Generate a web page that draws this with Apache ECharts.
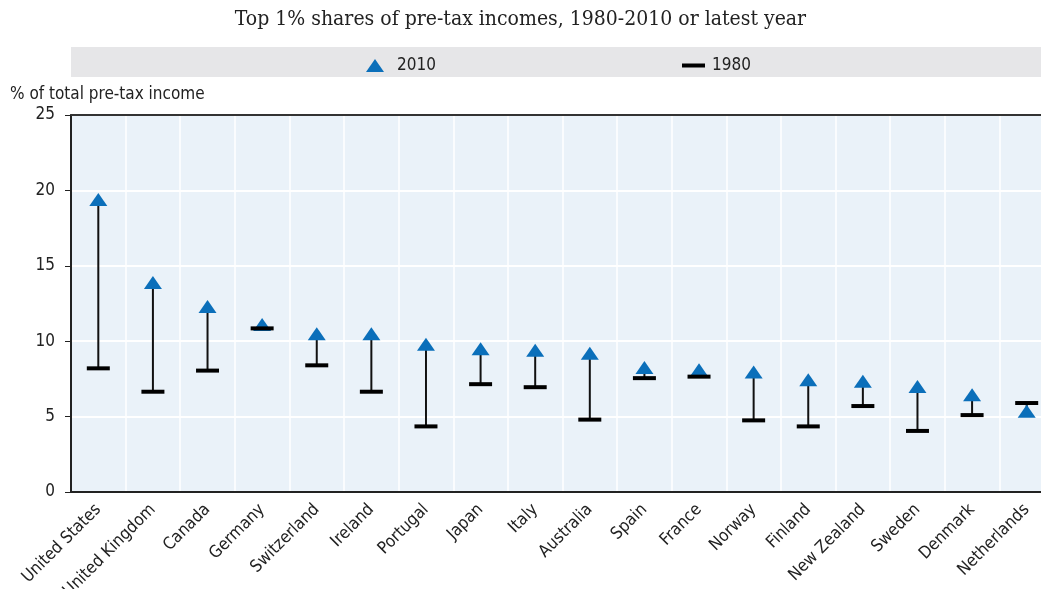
<!DOCTYPE html>
<html>
<head>
<meta charset="utf-8">
<script src="https://cdn.jsdelivr.net/npm/echarts@6/dist/echarts.min.js"></script>
<style>
html,body{margin:0;padding:0;background:#fff;}
#chart{width:1041px;height:589px;}
</style>
</head>
<body>
<div id="chart"></div>
<script>
var countries = ["United States","United Kingdom","Canada","Germany","Switzerland","Ireland","Portugal","Japan","Italy","Australia","Spain","France","Norway","Finland","New Zealand","Sweden","Denmark","Netherlands"];
var share2010 = [19.4,13.9,12.3,11.1,10.5,10.5,9.8,9.5,9.4,9.2,8.25,8.1,7.95,7.45,7.35,7.0,6.45,5.35];
var share1980 = [8.2,6.65,8.05,10.85,8.4,6.65,4.35,7.15,6.95,4.8,7.55,7.65,4.75,4.35,5.7,4.05,5.1,5.9];
var yTicks = [0,5,10,15,20,25];

var FONT = '"DejaVu Sans Condensed", Roboto, sans-serif';
var chart = echarts.init(document.getElementById('chart'));

var rangeData = countries.map(function(c, i){ return [i, share1980[i], share2010[i]]; });

chart.setOption({
  animation: false,
  backgroundColor: '#ffffff',
  title: {
    text: 'Top 1% shares of pre-tax incomes, 1980-2010 or latest year',
    left: 'center', top: 4,
    textStyle: {fontFamily: '"DejaVu Serif Condensed", "DejaVu Serif", serif', fontWeight: 'normal', fontSize: 21, color: '#222'}
  },
  graphic: [{
    type: 'rect', left: 71, top: 47, silent: true, z: -10,
    shape: {width: 970, height: 30},
    style: {fill: '#e6e6e8'}
  }],
  legend: [{
    data: ['2010'], left: 361, top: 52, itemWidth: 18, itemHeight: 13,
    textStyle: {fontFamily: FONT, fontSize: 17, color: '#222', padding: [0,0,0,8]}
  },{
    data: ['1980'], left: 677, top: 52, itemWidth: 23, itemHeight: 4,
    textStyle: {fontFamily: FONT, fontSize: 17, color: '#222', padding: [0,0,0,2]}
  }],
  grid: {left: 71, width: 983, top: 115, height: 377, containLabel: false, outerBoundsMode: 'none',
    show: true, backgroundColor: '#eaf2f9', borderWidth: 0},
  xAxis: [{
    type: 'category', data: countries, boundaryGap: true,
    axisLine: {lineStyle: {color: '#222', width: 2}},
    axisTick: {inside: true, length: 6, lineStyle: {color: '#777', width: 1.5}},
    splitLine: {show: true, lineStyle: {color: '#ffffff', width: 1.5}},
    axisLabel: {rotate: 45, fontFamily: FONT, fontSize: 17, color: '#222', margin: 15, interval: 0}
  },{
    type: 'category', data: countries, position: 'top',
    axisLine: {lineStyle: {color: '#333', width: 2}},
    axisTick: {show: false}, axisLabel: {show: false}
  }],
  yAxis: {
    type: 'value', min: 0, max: 25, interval: 5,
    name: '% of total pre-tax income', nameLocation: 'end', nameGap: 12,
    nameTextStyle: {fontFamily: FONT, fontSize: 17, color: '#222', align: 'left', padding: [0,0,0,-61]},
    axisLine: {show: true, lineStyle: {color: '#222', width: 2}},
    axisTick: {show: true, length: 6, lineStyle: {color: '#222'}},
    splitLine: {lineStyle: {color: '#ffffff', width: 2}},
    axisLabel: {fontFamily: FONT, fontSize: 17, color: '#222', margin: 16,
      formatter: function(v){ return yTicks.indexOf(v) >= 0 ? String(v) : ''; }}
  },
  series: [{
    type: 'custom', name: 'range', z: 2,
    data: rangeData,
    renderItem: function(params, api){
      var x = api.value(0);
      var a = api.coord([x, api.value(1)]);
      var b = api.coord([x, api.value(2)]);
      return {type: 'line', shape: {x1: a[0], y1: a[1], x2: b[0], y2: b[1]}, style: {stroke: '#111', lineWidth: 2}};
    },
    encode: {x: 0, y: [1, 2]}
  },{
    type: 'scatter', name: '2010', z: 3,
    symbol: 'triangle', symbolSize: [18, 13],
    itemStyle: {color: '#0b6fba', opacity: 1},
    data: share2010
  },{
    type: 'scatter', name: '1980', z: 4,
    symbol: 'rect', symbolSize: [23, 4],
    itemStyle: {color: '#000000', opacity: 1},
    data: share1980
  }]
});
</script>
</body>
</html>
